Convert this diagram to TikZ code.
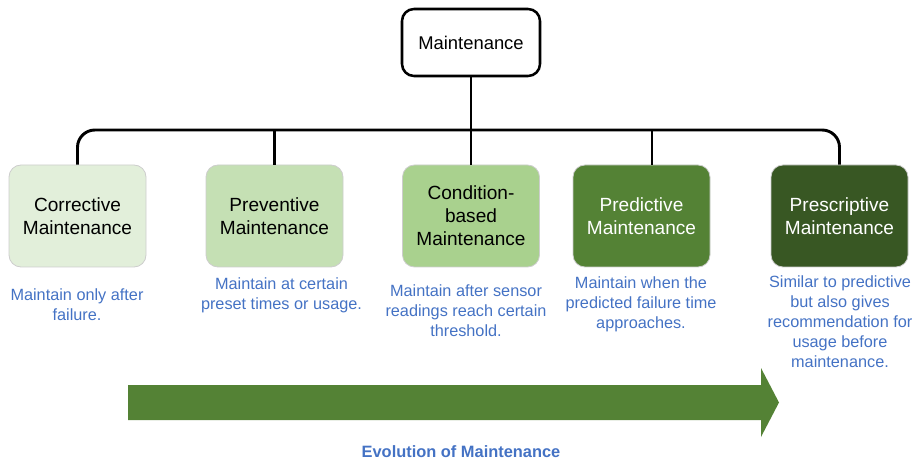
\documentclass[tikz,border=0pt]{standalone}
\usepackage{fontspec}
\setmainfont{Liberation Sans}
\usetikzlibrary{positioning}

\definecolor{gA}{RGB}{226,239,218}
\definecolor{gB}{RGB}{197,224,180}
\definecolor{gC}{RGB}{169,209,142}
\definecolor{gD}{RGB}{84,130,53}
\definecolor{gE}{RGB}{56,87,35}
\definecolor{descblue}{RGB}{68,114,196}
\definecolor{boxline}{RGB}{205,205,205}

\tikzset{every picture/.style={line width=0.75pt}}
\tikzset{
  topbox/.style={draw=black, line width=1.9pt, rounded corners=9pt, fill=white,
    minimum width=103.5pt, minimum height=50.25pt, align=center,
    font=\fontsize{13.8}{16}\selectfont},
  kindbox/.style={draw=boxline, line width=0.6pt, rounded corners=9pt,
    minimum width=102.75pt, minimum height=76.5pt, align=center, inner sep=2pt,
    font=\fontsize{14.3}{17.25}\selectfont},
  desc/.style={align=center, text=descblue, inner sep=0pt,
    font=\fontsize{12.2}{15}\selectfont},
  bus/.style={line width=2.2pt, black}
}

\begin{document}
\begin{tikzpicture}[x=0.75pt,y=0.75pt,yscale=-1,xscale=1]
\useasboundingbox (0,0) rectangle (921,463);

% Text Node
\node[topbox] (maint) at (471,42.5) {Maintenance};

% Text Node
\node[kindbox, fill=gA, text=black] (corr) at (77.5,216) {Corrective\\Maintenance};
% Text Node
\node[kindbox, fill=gB, text=black] (prev) at (274.5,216) {Preventive\\Maintenance};
% Text Node
\node[kindbox, fill=gC, text=black] (cond) at (471,216) {Condition-\\based\\Maintenance};
% Text Node
\node[kindbox, fill=gD, text=white] (pred) at (641.5,216) {Predictive\\Maintenance};
% Text Node
\node[kindbox, fill=gE, text=white] (presc) at (839.5,216) {Prescriptive\\Maintenance};

% Text Node
\node[desc] (dcorr) at (77,305) {Maintain only after\\failure.};
% Text Node
\node[desc] (dprev) at (281.5,295) {Maintain at certain\\preset times or usage.};
% Text Node
\node[desc] (dcond) at (466,311) {Maintain after sensor\\readings reach certain\\threshold.};
% Text Node
\node[desc] (dpred) at (641,304) {Maintain when the\\predicted failure time\\approaches.};
% Text Node
\node[desc] (dpresc) at (840,322) {Similar to predictive\\but also gives\\recommendation for\\usage before\\maintenance.};

% Connection
\coordinate (bus) at (471,130);
\coordinate (predtop) at (652,165);
\draw[bus, rounded corners=13pt] (corr.north) |- (bus) -| (presc.north);
\draw[bus] (maint.south) -- (cond.north);
\draw[bus] (prev.north) -- (prev.north |- bus);
\draw[bus] (predtop) -- (predtop |- bus);

% Arrow
\fill[gD] (128,385) -- (761,385) -- (761,368) -- (779,402.5) -- (761,437) -- (761,420) -- (128,420) -- cycle;

% Text Node
\node[text=descblue, font=\fontsize{12.3}{15}\selectfont\bfseries] (evol) at (461,452) {Evolution of Maintenance};

\end{tikzpicture}
\end{document}
